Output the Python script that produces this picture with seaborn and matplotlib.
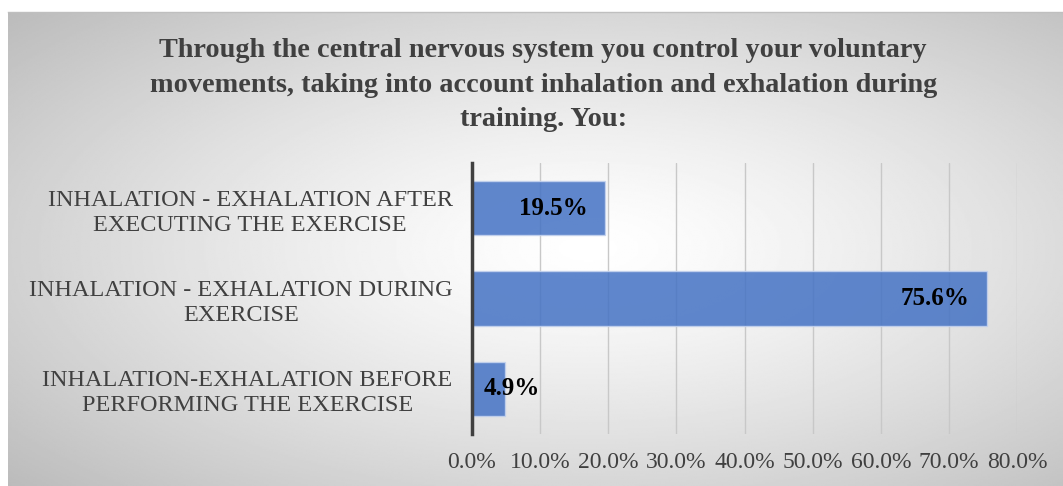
import matplotlib
matplotlib.use('Agg')
import matplotlib.pyplot as plt
import numpy as np
import seaborn as sns
import pandas as pd

title = ('Through the central nervous system you control your voluntary\n'
         'movements, taking into account inhalation and exhalation during\n'
         'training. You:')
categories = ['INHALATION - EXHALATION AFTER\nEXECUTING THE EXERCISE',
              'INHALATION - EXHALATION DURING\nEXERCISE',
              'INHALATION-EXHALATION BEFORE\nPERFORMING THE EXERCISE']
values = [19.5, 75.6, 4.9]
xticks = [0, 10, 20, 30, 40, 50, 60, 70, 80]

sns.set_style('white')
plt.rcParams['font.family'] = ['Liberation Serif', 'DejaVu Serif']

fig = plt.figure(figsize=(10.63, 4.86), dpi=100)

# radial gray gradient behind the chart
bg = fig.add_axes([8 / 1063, 0, 1 - 8 / 1063, 1 - 12 / 486])
yy, xx = np.mgrid[0:1:300j, 0:1:600j]
d = np.sqrt(((xx - 0.55) / 0.5) ** 2 + ((yy - 0.5) / 0.5) ** 2) / np.sqrt(2)
gray = np.clip(1 - 0.25 * d ** 1.3, 0, 1)
bg.imshow(gray, cmap='gray', vmin=0, vmax=1, aspect='auto', extent=[0, 1, 0, 1])
bg.set_xticks([])
bg.set_yticks([])
for s in ['left', 'right', 'bottom']:
    bg.spines[s].set_visible(False)
bg.spines['top'].set_color('#bfbfbf')
bg.spines['top'].set_linewidth(1)

ax = fig.add_axes([472 / 1063, 1 - 434 / 486, (1017 - 472) / 1063, (434 - 163) / 486])
ax.patch.set_alpha(0)

df = pd.DataFrame({'category': categories, 'value': values})
sns.barplot(data=df, x='value', y='category', orient='h', ax=ax, color='#4472C4',
            saturation=1, alpha=0.85, width=0.6, edgecolor='#c5d3ee', linewidth=1, zorder=3)

ax.set_xlim(0, 80)
ax.set_xticks(xticks)
ax.set_xticklabels([f'{t:.1f}%' for t in xticks], fontsize=17, color='#404040')
ax.tick_params(axis='x', length=0, pad=13)
ax.tick_params(axis='y', length=0, pad=14)
for label in ax.get_yticklabels():
    label.set_fontsize(17.5)
    label.set_color('#404040')
    label.set_multialignment('center')
    label.set_linespacing(1.25)
ax.set_xlabel('')
ax.set_ylabel('')
ax.grid(axis='x', color='#c8c8c8', linewidth=1, zorder=0)
ax.set_axisbelow(True)
for s in ['top', 'right', 'bottom']:
    ax.spines[s].set_visible(False)
ax.spines['left'].set_color('#404040')
ax.spines['left'].set_linewidth(2.5)
ax.spines['left'].set_zorder(5)

for i, v in enumerate(values):
    ax.text(max(v - 2.5, 10), i, f'{v:.1f}%', ha='right', va='center',
            fontsize=18, fontweight='bold', color='black', zorder=6)

fig.text(0.511, 1 - 38 / 486, title, ha='center', va='top', fontsize=20.3,
         fontweight='bold', color='#404040', linespacing=1.5)

plt.savefig('out.png', dpi=100)
